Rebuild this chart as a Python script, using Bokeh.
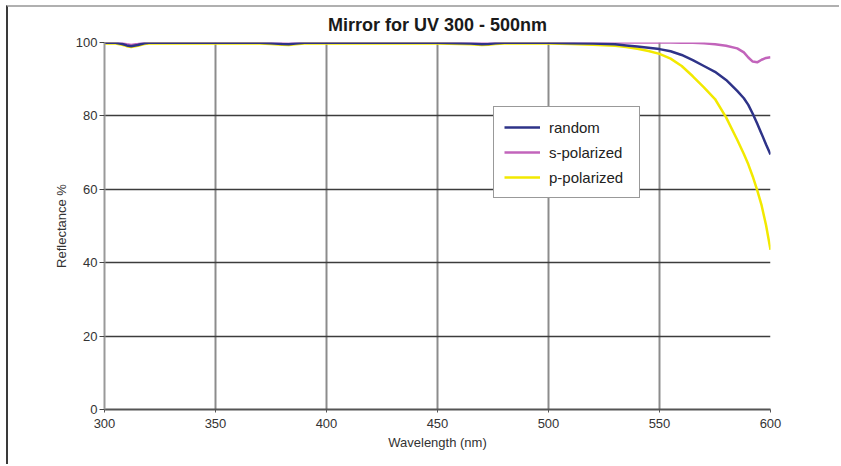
from bokeh.plotting import figure
from bokeh.models import Range1d, FixedTicker, Legend, LegendItem
from bokeh.embed import file_html
from bokeh.resources import INLINE

# Wavelength samples (nm) and reflectance (%) for each polarization
wavelength = [300, 305, 308, 310, 312, 315, 318, 320, 325, 330, 340, 350, 360, 370,
              375, 380, 383, 386, 390, 400, 410, 420, 430, 440, 450, 460, 465, 470,
              473, 476, 480, 490, 500, 510, 520, 530, 535, 540, 545, 550, 555, 560,
              565, 570, 575, 580, 585, 588, 590, 592, 594, 596, 598, 600]

random_pol = [99.9, 99.9, 99.6, 99.2, 99.0, 99.3, 99.8, 99.9, 99.9, 99.9, 99.9, 99.9, 99.9, 99.9,
              99.8, 99.6, 99.5, 99.7, 99.9, 99.9, 99.9, 99.9, 99.9, 99.9, 99.9, 99.8, 99.7, 99.5,
              99.6, 99.8, 99.9, 99.9, 99.9, 99.8, 99.7, 99.5, 99.2, 98.9, 98.6, 98.2, 97.6, 96.6,
              95.2, 93.6, 92.0, 89.8, 86.8, 84.8, 83.0, 80.6, 77.9, 75.1, 72.2, 69.5]

s_pol = [100.0, 100.0, 99.8, 99.5, 99.3, 99.6, 100.0, 100.0, 100.0, 100.0, 100.0, 100.0, 100.0, 100.0,
         99.9, 99.8, 99.7, 99.9, 100.0, 100.0, 100.0, 100.0, 100.0, 100.0, 100.0, 99.9, 99.9, 99.8,
         99.8, 99.9, 100.0, 100.0, 100.0, 100.0, 100.0, 100.0, 100.0, 100.0, 100.0, 100.0, 100.0, 99.9,
         99.9, 99.8, 99.5, 99.1, 98.4, 97.3, 95.9, 94.8, 94.6, 95.3, 95.8, 96.0]

p_pol = [99.7, 99.7, 99.4, 99.0, 98.8, 99.1, 99.6, 99.7, 99.7, 99.7, 99.7, 99.7, 99.7, 99.7,
         99.6, 99.4, 99.3, 99.5, 99.7, 99.7, 99.7, 99.7, 99.7, 99.7, 99.7, 99.6, 99.5, 99.3,
         99.4, 99.6, 99.7, 99.7, 99.7, 99.6, 99.4, 99.1, 98.8, 98.3, 97.7, 96.9, 95.6, 93.6,
         90.8, 87.8, 84.6, 79.6, 73.5, 69.6, 66.8, 63.5, 59.8, 55.6, 50.2, 43.5]

x_ticks = [300, 350, 400, 450, 500, 550, 600]
y_ticks = [0, 20, 40, 60, 80, 100]

FONT = "Liberation Sans"

p = figure(width=833, height=459, output_backend="svg", toolbar_location=None,
           x_range=Range1d(300, 600), y_range=Range1d(0, 100),
           min_border_left=96, min_border_right=71, min_border_top=35, min_border_bottom=57)
p.margin = (5, 0, 0, 6)
p.styles = {"border-top": "2px solid #b0b0b0", "border-left": "2px solid #3a3a3a"}

p.title.text = "Mirror for UV 300 - 500nm"
p.title.align = "center"
p.title.vertical_align = "top"
p.title.text_font = FONT
p.title.text_font_size = "18px"
p.title.text_font_style = "bold"
p.title.text_color = "#1a1a1a"
p.title.standoff = 11

p.outline_line_color = None
p.background_fill_color = "white"
p.border_fill_color = "white"

# Axes
p.xaxis.ticker = FixedTicker(ticks=x_ticks)
p.yaxis.ticker = FixedTicker(ticks=y_ticks)
for ax in (p.xaxis[0], p.yaxis[0]):
    ax.major_label_text_font = FONT
    ax.major_label_text_font_size = "13px"
    ax.major_label_text_color = "#333333"
    ax.axis_label_text_font = FONT
    ax.axis_label_text_font_size = "13px"
    ax.axis_label_text_font_style = "normal"
    ax.axis_label_text_color = "#333333"
    ax.minor_tick_line_color = None
    ax.major_tick_in = 0

p.xaxis.axis_label = "Wavelength (nm)"
p.xaxis.axis_line_color = "#555555"
p.xaxis.axis_line_width = 2
p.xaxis.major_tick_line_color = "#555555"
p.xaxis.major_tick_out = 3
p.xaxis.major_label_standoff = 6
p.xaxis.axis_label_standoff = 4

p.yaxis.axis_label = "Reflectance %"
p.yaxis.axis_line_color = "#999999"
p.yaxis.axis_line_width = 2
p.yaxis.major_tick_line_color = "#444444"
p.yaxis.major_tick_out = 5
p.yaxis.major_label_standoff = 2
p.yaxis.axis_label_standoff = 4

# Grid: dark horizontal lines, lighter vertical lines
p.xgrid.grid_line_color = "#8c8c8c"
p.xgrid.grid_line_width = 2
p.ygrid.grid_line_color = "#3c3c3c"
p.ygrid.grid_line_width = 1.5

r_s = p.line(wavelength, s_pol, line_color="#c264bb", line_width=2.5)
r_p = p.line(wavelength, p_pol, line_color="#f2e900", line_width=2.5)
r_r = p.line(wavelength, random_pol, line_color="#2e3388", line_width=2.5)

legend = Legend(items=[LegendItem(label="random", renderers=[r_r]),
                       LegendItem(label="s-polarized", renderers=[r_s]),
                       LegendItem(label="p-polarized", renderers=[r_p])],
                location=(389, 211))
legend.label_text_font = FONT
legend.label_text_font_size = "15px"
legend.label_text_color = "#222222"
legend.border_line_color = "#333333"
legend.border_line_width = 1
legend.background_fill_alpha = 1
legend.padding = 10
legend.spacing = 5
legend.glyph_width = 36
legend.glyph_height = 20
legend.label_height = 20
legend.label_standoff = 9
legend.label_width = 80
legend.margin = 0
p.add_layout(legend, "center")

open("out.html", "w").write(file_html(p, INLINE))
